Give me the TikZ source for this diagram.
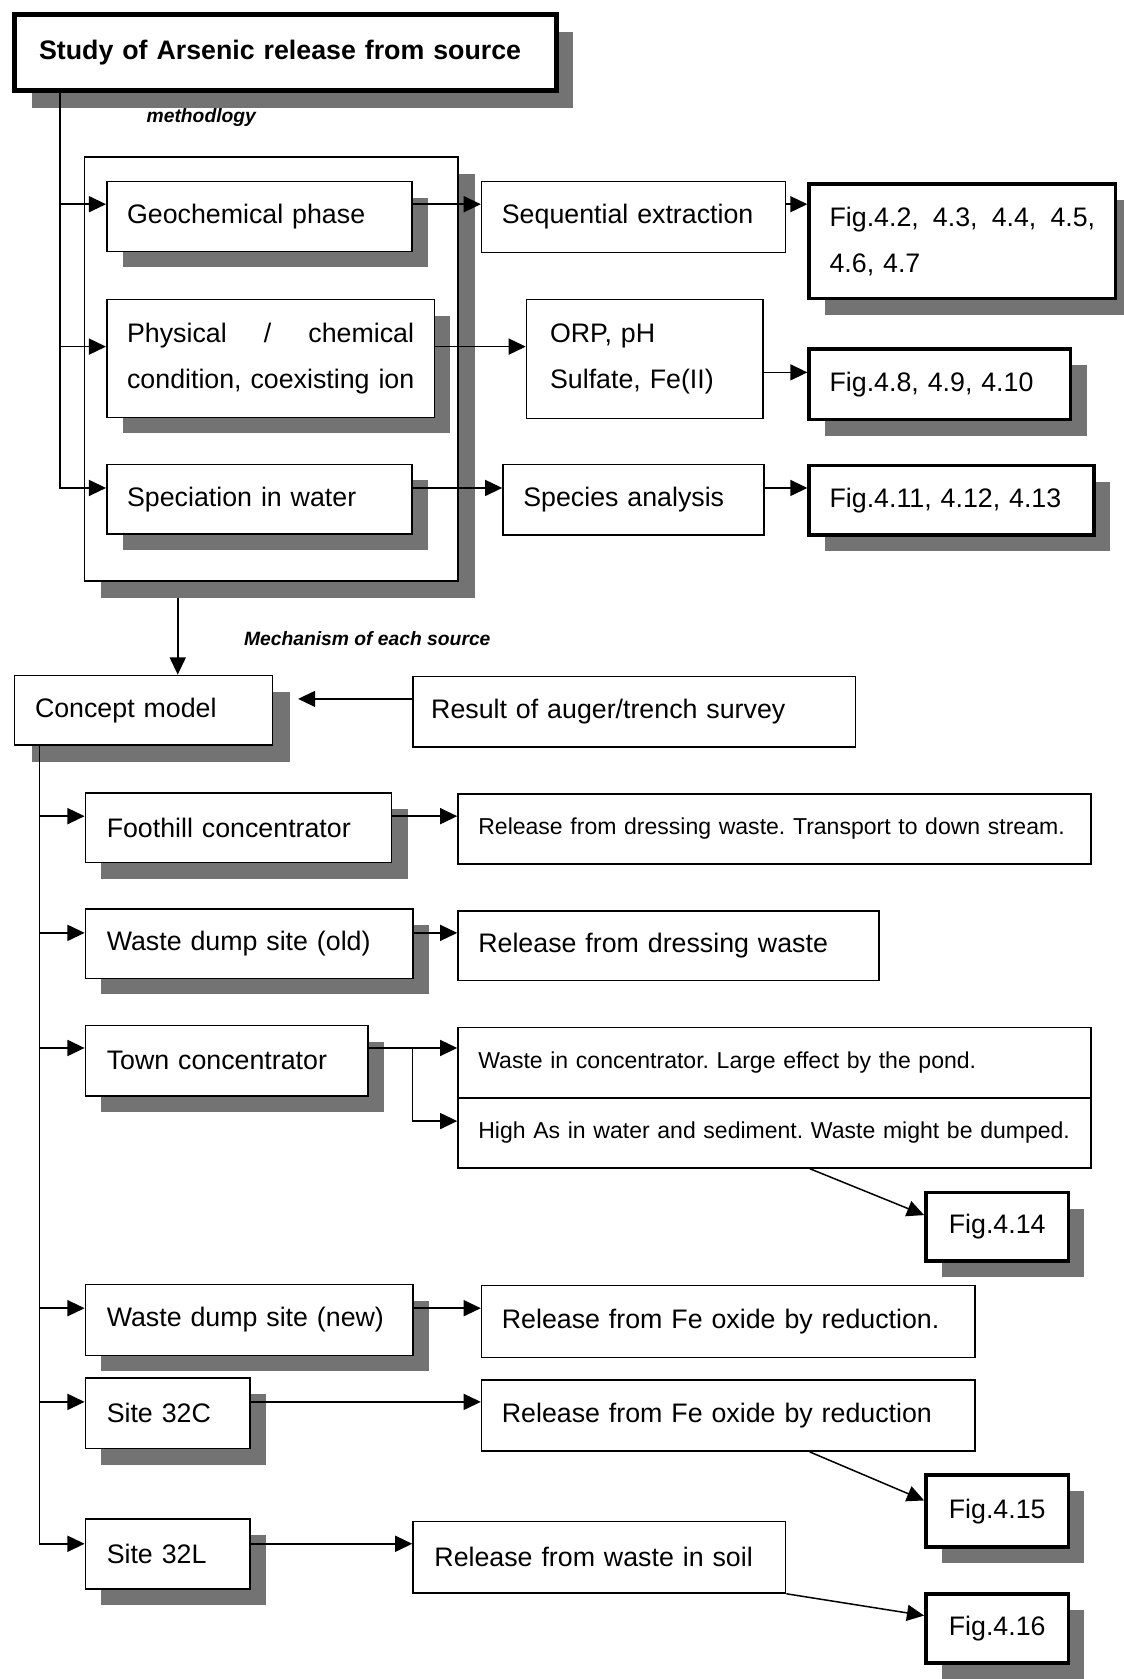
\documentclass[tikz,border=0pt]{standalone}
\usepackage{fontspec}
\setmainfont{Liberation Sans}
\usetikzlibrary{arrows.meta,shadows}
\newcommand\fmain{\fontsize{25}{43}\selectfont\frenchspacing}
\newcommand\fsmall{\fontsize{21.5}{30}\selectfont\frenchspacing}
\newcommand\flab{\fontsize{18}{22}\selectfont\bfseries\itshape}
\begin{document}
\begin{tikzpicture}[x=1pt,y=-1pt,
  ln/.style={line width=1.4pt},
  arr/.style={line width=1.4pt,-{Triangle[length=16pt,width=15pt]}},
  bx/.style={draw,line width=1.4pt,fill=white,anchor=north west,align=left,inner ysep=0pt,font=\fmain},
  shd/.style={drop shadow={shadow xshift=15pt,shadow yshift=-15pt,fill=black!55,opacity=1}},
  fg/.style={bx,line width=3.5pt,shd},
  pd/.style n args={3}{inner xsep=#1pt,text width=#2pt,minimum height=#3pt}]
\fill[white] (0,0) rectangle (1049,1568);
\useasboundingbox (0,0) rectangle (1049,1568);

% top block
\node[bx,line width=5pt,font=\fmain\bfseries,pd={23}{460}{71},
  drop shadow={shadow xshift=16pt,shadow yshift=-16pt,fill=black!55,opacity=1}] (title) at (11,11) {Study of Arsenic release from source};
\node[font=\flab] (meth) at (188,110) {methodlogy};
\node[bx,minimum width=349pt,minimum height=396pt,inner sep=0pt,
  drop shadow={shadow xshift=16pt,shadow yshift=-16pt,fill=black!55,opacity=1}] (cont) at (78,146) {};
\node[bx,shd,pd={19}{247}{65}] (geo) at (99,169) {Geochemical phase};
\node[bx,shd,pd={19}{268}{110}] (phys) at (99,279) {\leavevmode\hbox to 268pt{Physical\hfill /\hfill chemical}\\\mbox{condition, coexisting ion}};
\node[bx,shd,pd={19}{247}{65}] (spec) at (99,433) {Speciation in water};
\node[bx,pd={19}{246}{66}] (seq) at (449,169) {Sequential extraction};
\node[fg,pd={19}{248}{107}] (fig2) at (754,170) {\leavevmode\hbox to 248pt{Fig.4.2,\hfill 4.3,\hfill 4.4,\hfill 4.5,}\\4.6, 4.7};
\node[bx,pd={22}{177}{111}] (orp) at (491,279) {ORP, pH\\Sulfate, Fe(II)};
\node[fg,pd={19}{206}{66}] (fig8) at (754,324) {Fig.4.8, 4.9, 4.10};
\node[bx,pd={19}{206}{66}] (species) at (469,433) {Species analysis};
\node[fg,pd={19}{228}{65}] (fig11) at (754,433) {Fig.4.11, 4.12, 4.13};

% concept block
\node[font=\flab] (mech) at (343,596) {Mechanism of each source};
\node[bx,pd={19}{203}{65},drop shadow={shadow xshift=16pt,shadow yshift=-16pt,fill=black!55,opacity=1}] (concept) at (13,630) {Concept model};
\node[bx,pd={17}{379}{66}] (result) at (385,631) {Result of auger/trench survey};

\node[bx,shd,pd={20}{246}{65}] (foothill) at (79,740) {Foothill concentrator};
\node[bx,font=\fsmall,pd={19}{553}{65}] (rel1) at (427,741) {Release from dressing waste. Transport to down stream.};
\node[bx,shd,pd={20}{266}{65}] (wold) at (79,848) {Waste dump site (old)};
\node[bx,pd={19}{355}{65}] (rel2) at (427,850) {Release from dressing waste};
\node[bx,shd,pd={20}{224}{66}] (town) at (79,957) {Town concentrator};
\node[bx,font=\fsmall,pd={19}{553}{65.5}] (rel3a) at (427,959) {Waste in concentrator. Large effect by the pond.};
\node[bx,font=\fsmall,pd={19}{553}{65.5}] (rel3b) at (427,1024.5) {High As in water and sediment. Waste might be dumped.};
\node[fg,minimum width=133pt,minimum height=64pt] (fig14) at (863,1112) {Fig.4.14};
\node[bx,shd,pd={20}{266}{66}] (wnew) at (79,1199) {Waste dump site (new)};
\node[bx,pd={19}{423}{67}] (relfe1) at (449,1200) {Release from Fe oxide by reduction.};
\node[bx,shd,pd={20}{114}{66}] (s32c) at (79,1286) {Site 32C};
\node[bx,pd={19}{423}{66.5}] (relfe2) at (449,1288) {Release from Fe oxide by reduction};
\node[fg,minimum width=133pt,minimum height=67pt] (fig15) at (863,1376) {Fig.4.15};
\node[bx,shd,pd={20}{114}{65}] (s32l) at (79,1418) {Site 32L};
\node[bx,pd={20}{308}{67}] (relsoil) at (385,1420) {Release from waste in soil};
\node[fg,minimum width=133pt,minimum height=64pt] (fig16) at (863,1487) {Fig.4.16};

% connectors, top block
\coordinate (trunk) at ([xshift=45pt]title.south west);
\coordinate (ga) at ([yshift=11.5pt]geo.west);
\coordinate (pa) at ([yshift=11pt]phys.west);
\coordinate (sa) at ([yshift=10.5pt]spec.west);
\coordinate (oa) at ([yshift=11pt]fig8.west);
\draw[arr] (trunk) |- (sa);
\draw[arr] (trunk |- ga) -- (ga);
\draw[arr] (trunk |- pa) -- (pa);
\draw[arr] (ga -| geo.east) -- (ga -| seq.west);
\draw[arr] (ga -| seq.east) -- (ga -| fig2.west);
\draw[arr] (pa -| phys.east) -- (pa -| orp.west);
\draw[arr] (oa -| orp.east) -- (oa);
\draw[arr] (sa -| spec.east) -- (sa -| species.west);
\draw[arr] (sa -| species.east) -- (sa -| fig11.west);

% to concept
\coordinate (cx) at (166,558);
\draw[arr] (cx) -- (cx |- concept.north);
\coordinate (ra) at ([yshift=12pt]result.west);
\coordinate (ct) at ([xshift=23pt]concept.east);
\draw[arr] (ra) -- (ra -| ct);

% concept trunk
\coordinate (trunk2) at ([xshift=24pt]concept.south west);
\coordinate (fa) at ([yshift=11pt]foothill.west);
\coordinate (oa2) at ([yshift=10pt]wold.west);
\coordinate (ta) at ([yshift=12pt]town.west);
\coordinate (na) at ([yshift=11pt]wnew.west);
\coordinate (ca) at ([yshift=10.5pt]s32c.west);
\coordinate (la) at ([yshift=9.5pt]s32l.west);
\draw[arr] (trunk2) |- (la);
\draw[arr] (trunk2 |- fa) -- (fa);
\draw[arr] (trunk2 |- oa2) -- (oa2);
\draw[arr] (trunk2 |- ta) -- (ta);
\draw[arr] (trunk2 |- na) -- (na);
\draw[arr] (trunk2 |- ca) -- (ca);

\draw[arr] (fa -| foothill.east) -- (fa -| rel1.west);
\draw[arr] (oa2 -| wold.east) -- (oa2 -| rel2.west);
\coordinate (jx) at (385,0);
\coordinate (hb) at ([yshift=11pt]rel3b.west);
\draw[arr] (ta -| town.east) -- (ta -| rel3a.west);
\draw[arr] (ta -| jx) |- (hb);
\draw[arr] ([xshift=33pt]rel3b.south) -- ([yshift=11pt]fig14.west);
\draw[arr] (na -| wnew.east) -- (na -| relfe1.west);
\draw[arr] (ca -| s32c.east) -- (ca -| relfe2.west);
\draw[arr] ([xshift=76pt]relfe2.south) -- ([yshift=10pt]fig15.west);
\draw[arr] (la -| s32l.east) -- (la -| relsoil.west);
\draw[arr] (relsoil.south east) -- ([yshift=12pt]fig16.west);
\end{tikzpicture}
\end{document}
